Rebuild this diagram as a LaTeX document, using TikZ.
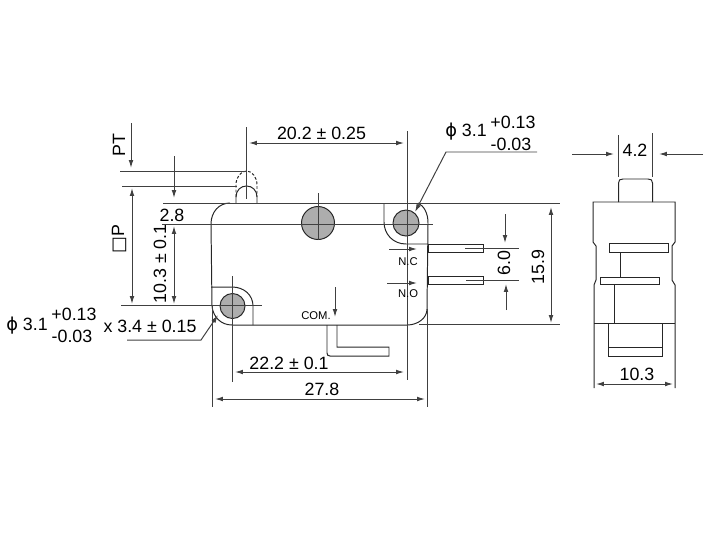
\documentclass[tikz,border=0pt]{standalone}
\usepackage{fontspec}
\setmainfont{Liberation Sans}
\newfontfamily\glyphfont{DejaVu Sans}
\usetikzlibrary{arrows.meta}
\tikzset{
  outline/.style={line width=1.05pt, black!85},
  dimline/.style={line width=1.05pt, black!75},
  dimarrow/.style={dimline, -{Latex[length=8.5pt,width=5pt]}},
  twoarrow/.style={dimline, {Latex[length=8.5pt,width=5pt]}-{Latex[length=8.5pt,width=5pt]}},
  hole/.style={line width=1.05pt, black!85, fill=black!32},
  biglabel/.style={inner sep=0pt, font=\fontsize{19}{21}\selectfont},
  tinylabel/.style={inner sep=0pt, font=\fontsize{12}{13}\selectfont}
}
\begin{document}
\begin{tikzpicture}[x=0.0375cm,y=-0.0375cm]
                    \useasboundingbox (0,0) rectangle (705,538);
                    
                    % Drawing holes
                    \draw [hole] (318,223) circle (16.5);%
                    \draw [hole] (406,223) circle (13);%
                    \draw [hole] (232.5,306) circle (12.5);%
                    
                    % Drawing body outline
                    \draw [outline] (230,203) .. controls (219,203) and (211,212) .. (211,224) -- (212,306) .. controls (213,317) and (221,325) .. (232,325) -- (407,325) .. controls (418,325) and (427,318) .. (427,309) -- (428,223) .. controls (428,213) and (424,206) .. (418,203);%
                    \draw [outline] (211,287) -- (232,287) .. controls (244,287) and (253,295) .. (253,306) -- (253,325);%
                    \draw [outline] (384,203) -- (384,222) .. controls (384,234) and (393,244) .. (406,244) -- (428,244);%
                    
                    % Drawing plunger
                    \draw [outline] (236,203) -- (236,197) .. controls (236,190) and (241,186) .. (246.5,186) .. controls (252,186) and (257,190) .. (257,197) -- (257,203);%
                    \draw [outline, densely dashed] (236,197) -- (236,185) .. controls (236,177) and (241,171) .. (246.5,171) .. controls (252,171) and (257,177) .. (257,185) -- (257,197);%
                    
                    % Drawing terminals
                    \draw [outline] (428,244) rectangle (483,252);%
                    \draw [outline] (428,276) rectangle (483,284);%
                    \draw [outline] (327,325) -- (327,353) .. controls (327,355) and (328,356) .. (330,356) -- (389,356) -- (389,347) -- (337,347) -- (337,325);%
                    
                    % Drawing extension lines
                    \draw [dimline] (120,171) -- (246,171);%
                    \draw [dimline] (122,186) -- (237,186);%
                    \draw [dimline] (163,203) -- (560,203);%
                    \draw [dimline] (162,224) -- (433,224);%
                    \draw [dimline] (121,305) -- (262,305);%
                    \draw [dimline] (419,324) -- (560,324);%
                    \draw [dimline] (465,248) -- (519,248);%
                    \draw [dimline] (466,280) -- (519,280);%
                    \draw [dimline] (246,127) -- (246,199);%
                    \draw [dimline] (318,193) -- (318,240);%
                    \draw [dimline] (407,131) -- (407,380);%
                    \draw [dimline] (232,276) -- (232,382);%
                    \draw [dimline] (212,306) -- (212,407);%
                    \draw [dimline] (427,309) -- (427,407);%
                    
                    % Drawing dimension arrows
                    \draw [dimarrow] (131,123) -- (131,168);%
                    \draw [dimarrow] (174,156) -- (174,198);%
                    \draw [twoarrow] (132,188) -- (132,304);%
                    \draw [twoarrow] (174,226) -- (174,304);%
                    \draw [twoarrow] (249,143) -- (404,143);%
                    \draw [twoarrow] (235,372) -- (404,372);%
                    \draw [twoarrow] (215,399) -- (425,399);%
                    \draw [twoarrow] (551,207) -- (551,323);%
                    \draw [dimarrow] (505,214) -- (505,243);%
                    \draw [dimarrow] (506,310) -- (506,284);%
                    \draw [dimarrow] (389,249) -- (417,249);%
                    \draw [dimarrow] (387,283) -- (417,283);%
                    \draw [dimarrow] (335,287) -- (335,317);%
                    
                    % Drawing leaders
                    \draw [dimarrow] (537,152) -- (446,152) -- (415,212);%
                    \draw [dimarrow] (127,340) -- (201,340) -- (218,315);%
                    
                    % Drawing side view
                    \draw [outline] (618.5,202) -- (618.5,183) .. controls (618.5,180) and (620,179) .. (623,179) -- (648,179) .. controls (651,179) and (652.5,180) .. (652.5,183) -- (652.5,202);%
                    \draw [outline] (594,388) -- (594,285) -- (596,280) -- (596,246) -- (593,242) -- (593,202) -- (675,202) -- (675,242) -- (672,246) -- (672,280) -- (675,285) -- (675,388);%
                    \draw [outline] (594,323) -- (675,323);%
                    \draw [outline, fill=white] (609,243) rectangle (668,252);%
                    \draw [outline] (620,252) -- (620,277);%
                    \draw [outline, fill=white] (600,277) rectangle (659,284);%
                    \draw [outline] (614,284) -- (614,323);%
                    \draw [outline] (608,323) rectangle (662,356);%
                    \draw [outline] (608,347) -- (662,347);%
                    \draw [dimline] (618,135) -- (618,177);%
                    \draw [dimline] (652,133) -- (652,177);%
                    \draw [dimarrow] (572,154) -- (614,154);%
                    \draw [dimarrow] (703,154) -- (659,154);%
                    \draw [twoarrow] (596,384) -- (673,384);%
                    
                    % Marking labels
                    \draw (119,145) node (labelPT) [biglabel, rotate=90] {PT};%
                    \draw (119,239) node (labelP) [biglabel, rotate=90] {{\glyphfont □}P};%
                    \draw (172,215) node (labelTwoEight) [biglabel] {2.8};%
                    \draw (160,264) node (labelTenThree) [biglabel, rotate=90] {10.3 ± 0.1};%
                    \draw (321.5,133) node (labelTwenty) [biglabel] {20.2 ± 0.25};%
                    \draw (466,132) node (labelPhiTop) [biglabel] {{\glyphfont ϕ} 3.1};%
                    \draw (513,122) node (labelPlusTop) [biglabel] {+0.13};%
                    \draw (511,144) node (labelMinusTop) [biglabel] {-0.03};%
                    \draw (27,326) node (labelPhiLeft) [biglabel] {{\glyphfont ϕ} 3.1};%
                    \draw (74,314) node (labelPlusLeft) [biglabel] {+0.13};%
                    \draw (72,336) node (labelMinusLeft) [biglabel] {-0.03};%
                    \draw (150,326) node (labelSlot) [biglabel] {x 3.4 ± 0.15};%
                    \draw (289,363) node (labelTwentyTwo) [biglabel] {22.2 ± 0.1};%
                    \draw (322,389) node (labelTwentySeven) [biglabel] {27.8};%
                    \draw (504,263) node (labelSix) [biglabel, rotate=90] {6.0};%
                    \draw (538,267) node (labelFifteen) [biglabel, rotate=90] {15.9};%
                    \draw (635,150) node (labelFourTwo) [biglabel] {4.2};%
                    \draw (637,374) node (labelTenThreeSide) [biglabel] {10.3};%
                    \draw (408,262) node (labelNC) [tinylabel] {N.C};%
                    \draw (408,294) node (labelNO) [tinylabel] {N.O};%
                    \draw (316,316) node (labelCOM) [tinylabel] {COM.};%
\end{tikzpicture}
\end{document}
